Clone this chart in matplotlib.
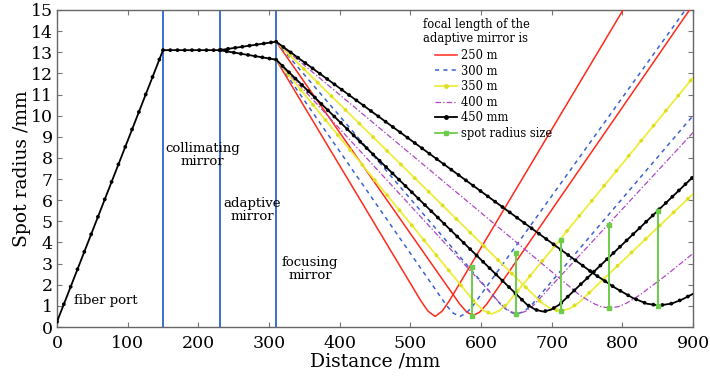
import matplotlib
matplotlib.use("Agg")
import matplotlib.pyplot as plt
from matplotlib.lines import Line2D

plt.rcParams['font.family'] = 'DejaVu Serif'
plt.rcParams['lines.scale_dashes'] = False

# beam before the focusing mirror (fiber port -> collimating -> adaptive -> focusing)
fiber_x = [0, 150]
fiber_y = [0.25, 13.1]
front_x = [150, 230, 310]
front_y = [13.1, 13.1, 13.5]
front2_x = [230, 310]
front2_y = [13.1, 12.65]

# after the focusing mirror, two branches for each focal length
red_a_x = [310, 515, 525, 535, 545, 555, 801]
red_a_y = [12.65, 1.23, 0.75, 0.5, 0.75, 1.23, 15]
red_b_x = [310, 570, 580, 589, 598, 608, 895]
red_b_y = [13.5, 1.08, 0.70, 0.55, 0.70, 1.08, 15]

blue_a_x = [310, 552, 561, 570, 579, 588, 889]
blue_a_y = [12.65, 0.98, 0.65, 0.5, 0.65, 0.98, 15]
blue_b_x = [310, 628, 639, 650, 661, 672, 900]
blue_b_y = [13.5, 1.06, 0.74, 0.6, 0.74, 1.06, 10.0]

yellow_a_x = [310, 593, 604, 615, 626, 637, 900]
yellow_a_y = [12.65, 1.10, 0.77, 0.62, 0.77, 1.10, 11.8]
yellow_b_x = [310, 685, 698, 712, 726, 739, 900]
yellow_b_y = [13.5, 1.17, 0.88, 0.75, 0.88, 1.17, 6.3]

purple_a_x = [310, 630, 641, 652, 663, 674, 900]
purple_a_y = [12.65, 1.02, 0.74, 0.62, 0.74, 1.02, 9.2]
purple_b_x = [310, 740, 758, 770, 782, 794, 806, 824, 860, 900]
purple_b_y = [13.5, 1.50, 1.13, 0.96, 0.9, 0.96, 1.13, 1.50, 2.40, 3.48]

black_a_x = [310, 665, 677, 688, 699, 711, 900]
black_a_y = [12.65, 1.06, 0.82, 0.73, 0.82, 1.06, 7.1]
black_b_x = [310, 760, 790, 815, 835, 852, 870, 885, 900]
black_b_y = [13.5, 2.51, 1.85, 1.37, 1.10, 1.02, 1.11, 1.31, 1.57]

# spot radius size bars
spot_x = [587, 649, 713, 781, 851]
spot_lo = [0.52, 0.62, 0.76, 0.89, 1.01]
spot_hi = [2.83, 3.49, 4.12, 4.82, 5.51]

mirror_x = [150, 230, 310]

RED = '#ff2a1a'
BLUE = '#3a62d0'
YELLOW = '#eded3a'
PURPLE = '#b046c4'
GREEN = '#6ccc4a'

fig = plt.figure(figsize=(7.1, 3.77), dpi=100)
ax = fig.add_axes([0.0803, 0.1326, 0.8958, 0.8409])

for mx in mirror_x:
    ax.axvline(mx, color='#3a70d0', lw=1.4, zorder=1)

def dotted(x, y, color, gap, size):
    ax.plot(x, y, color=color, lw=size, linestyle=(0, (0.01, gap)),
            dash_capstyle='round', solid_capstyle='round', zorder=4)

ax.plot(red_a_x, red_a_y, color=RED, lw=1.1, zorder=3)
ax.plot(red_b_x, red_b_y, color=RED, lw=1.1, zorder=3)
ax.plot(blue_a_x, blue_a_y, color=BLUE, lw=1.1, linestyle=(0, (3, 3)), zorder=3)
ax.plot(blue_b_x, blue_b_y, color=BLUE, lw=1.1, linestyle=(0, (3, 3)), zorder=3)
for xs, ys in [(yellow_a_x, yellow_a_y), (yellow_b_x, yellow_b_y)]:
    ax.plot(xs, ys, color=YELLOW, lw=1.3, zorder=3)
    dotted(xs, ys, '#dede20', 14, 2.8)
ax.plot(purple_a_x, purple_a_y, color=PURPLE, lw=0.9, linestyle=(0, (4, 1.5, 1, 1.5)), zorder=3)
ax.plot(purple_b_x, purple_b_y, color=PURPLE, lw=0.9, linestyle=(0, (4, 1.5, 1, 1.5)), zorder=3)
for xs, ys, gap in [(black_a_x, black_a_y, 6.5), (black_b_x, black_b_y, 6.5),
                    (fiber_x, fiber_y, 13.5), (front_x, front_y, 5.2),
                    (front2_x, front2_y, 5.2)]:
    ax.plot(xs, ys, color='black', lw=1.3, zorder=4)
    dotted(xs, ys, 'black', gap, 2.8)

for sx, lo, hi in zip(spot_x, spot_lo, spot_hi):
    ax.plot([sx, sx], [lo, hi], color=GREEN, lw=1.4, marker='s', ms=2.5, zorder=5)

ax.set_xlim(0, 900)
ax.set_ylim(0, 15)
ax.set_xticks(range(0, 901, 100))
ax.set_yticks(range(0, 16))
ax.tick_params(direction='in', top=True, right=True, length=3.5, width=0.8,
               color='#777777', labelsize=12.5)
ax.tick_params(axis='x', pad=6)
ax.tick_params(axis='y', pad=3)
for sp in ax.spines.values():
    sp.set_color('#666666')
    sp.set_linewidth(1.0)

ax.set_xlabel('Distance /mm', fontsize=13.5, labelpad=0)
ax.set_ylabel('Spot radius /mm', fontsize=13.5, labelpad=0)

ax.text(206, 8.15, 'collimating\nmirror', ha='center', va='center', fontsize=9.5, linespacing=1.0)
ax.text(276, 5.55, 'adaptive\nmirror', ha='center', va='center', fontsize=9.5, linespacing=1.0)
ax.text(358, 2.75, 'focusing\nmirror', ha='center', va='center', fontsize=9.5, linespacing=1.0)
ax.text(69, 1.25, 'fiber port', ha='center', va='center', fontsize=9.5)

ax.text(0.5755, 0.975, 'focal length of the\nadaptive mirror is', transform=ax.transAxes,
        ha='left', va='top', fontsize=8.3, linespacing=1.1)
handles = [
    Line2D([], [], color=RED, lw=1.1),
    Line2D([], [], color=BLUE, lw=1.1, linestyle=(0, (3, 3))),
    Line2D([], [], color=YELLOW, lw=1.3, marker='o', ms=2.5, mfc='#dede20', mec='#dede20'),
    Line2D([], [], color=PURPLE, lw=0.9, linestyle=(0, (4, 1.5, 1, 1.5))),
    Line2D([], [], color='black', lw=1.3, marker='o', ms=2.5),
    Line2D([], [], color=GREEN, lw=1.3, marker='s', ms=2.5),
]
labels = ['250 m', '300 m', '350 m', '400 m', '450 mm', 'spot radius size']
ax.legend(handles, labels, loc='upper left', bbox_to_anchor=(0.594, 0.877), frameon=False,
          fontsize=8.3, handlelength=1.9, handletextpad=0.4, labelspacing=0.22,
          borderpad=0, borderaxespad=0)

fig.savefig('out.png', dpi=100)
